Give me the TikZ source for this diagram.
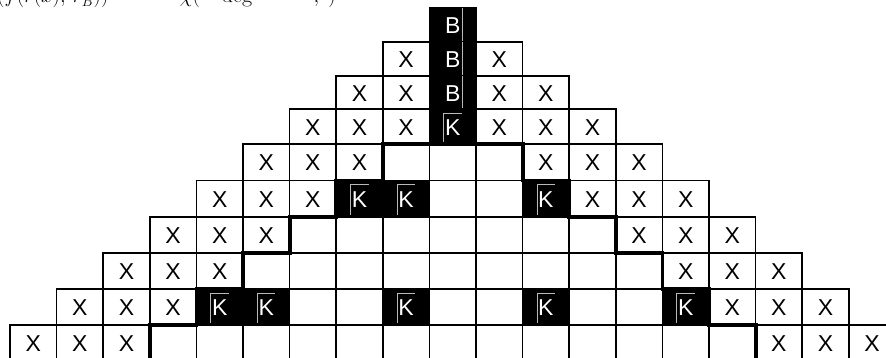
\documentclass[tikz,border=0pt]{standalone}
\usepackage{fontspec}
\newfontfamily\cellfont{Liberation Sans}
\begin{document}
\begin{tikzpicture}[x=1pt,y=-1pt,
  gridline/.style={line width=1.6pt},
  thickline/.style={line width=3.8pt, line cap=rect},
  letter/.style={font=\cellfont\fontsize{23}{26}\selectfont, inner sep=0pt},
  artifact/.style={draw=gray!55, line width=0.5pt},
  captext/.style={anchor=base west, inner sep=0pt, font=\fontsize{22}{26}\selectfont},
]
\useasboundingbox (0,0) rectangle (886,358);
\node[captext] (caption) at (-3,3)
  {$(f(r(x),\,r_B))\quad\;\; = \;\;\chi\bigl(\quad \mathrm{deg}\qquad\;\;\; ,\; \bigr)$};
\foreach \r/\cells in {
  0/{B},
  1/{X,B,X},
  2/{X,X,B,X,X},
  3/{X,X,X,K,X,X,X},
  4/{X,X,X,E,E,E,X,X,X},
  5/{X,X,X,K,K,E,E,K,X,X,X},
  6/{X,X,X,E,E,E,E,E,E,E,X,X,X},
  7/{X,X,X,E,E,E,E,E,E,E,E,E,X,X,X},
  8/{X,X,X,K,K,E,E,K,E,E,K,E,E,K,X,X,X},
  9/{X,X,X,E,E,E,E,E,E,E,E,E,E,E,E,E,X,X,X}}{
  \pgfmathsetmacro\yt{{8,42,76,109,144,180.5,216.8,253,289,325,361}[\r]}
  \pgfmathsetmacro\yb{{8,42,76,109,144,180.5,216.8,253,289,325,361}[\r+1]}
  \foreach \t [count=\i from 0] in \cells {
    \pgfmathsetmacro\xl{10+(9-\r+\i)*46.6}
    \pgfmathsetmacro\xr{\xl+46.6}
    \pgfmathsetmacro\xm{\xl+23.3}
    \pgfmathsetmacro\ym{(\yt+\yb)/2+0.8}
    \if\t X
      \draw[gridline, fill=white] (\xl,\yt) rectangle (\xr,\yb);
      \node[letter] (cell-\r-\i) at (\xm,\ym) {X};
    \fi
    \if\t E
      \draw[gridline, fill=white] (\xl,\yt) rectangle (\xr,\yb);
    \fi
    \if\t K
      \draw[gridline, fill=black] (\xl,\yt) rectangle (\xr,\yb);
      \draw[artifact] (\xm-9,\yb-2) -- (\xm-9,\yt+4) -- (\xm+9,\yt+4);
      \node[letter, text=white] (cell-\r-\i) at (\xm,\ym) {K};
    \fi
    \if\t B
      \draw[gridline, fill=black] (\xl,\yt) rectangle (\xr,\yb);
      \draw[artifact] (\xm+10,\yt) -- (\xm+10,\yb);
      \node[letter, text=white] (cell-\r-\i) at (\xm,\ym) {B};
    \fi
  }
}
% thick boundary between the X region and the interior
\pgfmathsetmacro\ya{144}\pgfmathsetmacro\yc{180.5}\pgfmathsetmacro\yd{216.8}
\pgfmathsetmacro\ye{253}\pgfmathsetmacro\yf{289}\pgfmathsetmacro\yg{325}
\draw[thickline]
  (10+3*46.6,361) -- (10+3*46.6,\yg) -- (10+4*46.6,\yg) -- (10+4*46.6,\yf)
  -- (10+5*46.6,\yf) -- (10+5*46.6,\ye) -- (10+6*46.6,\ye) -- (10+6*46.6,\yd)
  -- (10+7*46.6,\yd) -- (10+7*46.6,\yc) -- (10+8*46.6,\yc) -- (10+8*46.6,\ya)
  -- (10+11*46.6,\ya) -- (10+11*46.6,\yc) -- (10+12*46.6,\yc) -- (10+12*46.6,\yd)
  -- (10+13*46.6,\yd) -- (10+13*46.6,\ye) -- (10+14*46.6,\ye) -- (10+14*46.6,\yf)
  -- (10+15*46.6,\yf) -- (10+15*46.6,\yg) -- (10+16*46.6,\yg) -- (10+16*46.6,361);
\end{tikzpicture}
\end{document}
